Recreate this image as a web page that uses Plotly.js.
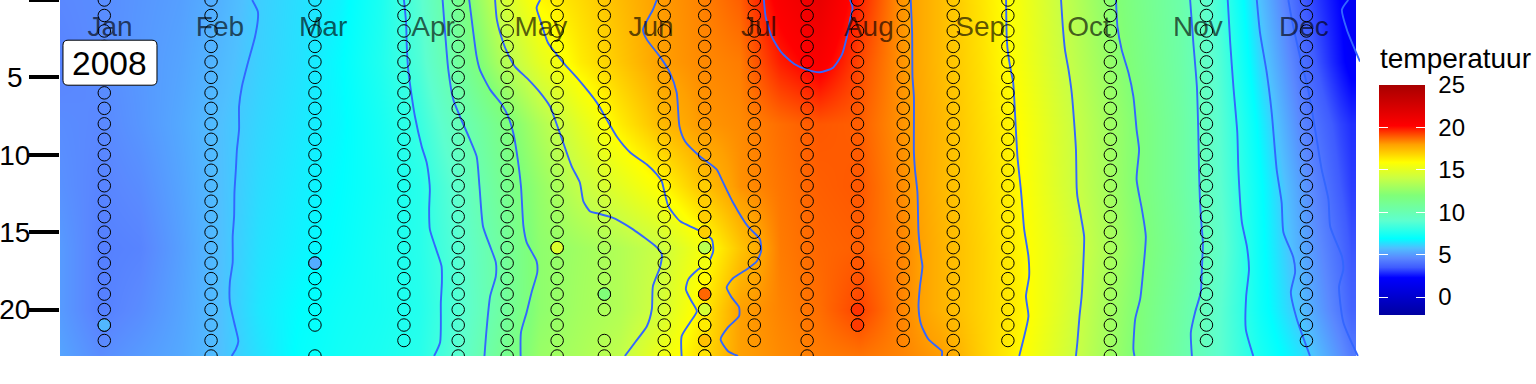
<!DOCTYPE html>
<html>
<head>
<meta charset="utf-8">
<script src="https://cdn.plot.ly/plotly-3.0.1.min.js"></script>
<style>html,body{margin:0;padding:0;background:#fff;overflow:hidden}#chart{width:1536px;height:384px}</style>
</head>
<body>
<div id="chart"></div>
<script>
const monthNames = ['Jan','Feb','Mar','Apr','May','Jun','Jul','Aug','Sep','Oct','Nov','Dec'];
const monthDays = [15.6,46.6,75.7,106.7,137.1,168.2,198.6,229.6,261,291.7,322.4,352.3];
const yearLabel = '2008';
const depthTicks = [0,5,10,15,20];
const depthTickText = ['0\u00A0','5\u00A0','10','15','20'];

const gridDays = [1.5,12.8,24.1,35.3,46.6,57.9,69.2,80.5,91.7,103,114.3,125.6,136.9,148.1,159.4,170.7,182,193.3,204.5,215.8,227.1,238.4,249.7,260.9,272.2,283.5,294.8,306.1,317.4,328.6,339.9,351.2,362.5,365.5];
const gridDepths = [0,4,8,12,16,20,23];
const tempAt0  = [4.6,4.7,4.9,5.1,5.5,6.05,6.35,6.7,7.5,8.9,11.3,14.2,16.05,16.7,17.4,18.05,18.4,18.9,20.5,21.4,19.7,18.2,17.4,16.5,15.5,14,12.6,11.4,10.3,8.4,5.8,3.6,2.3,1.7];
const tempAt4  = [4.5,4.7,4.95,5.2,5.65,6.1,6.4,6.85,7.6,8.7,10.8,13.2,15,16.3,17.15,18,18.3,18.5,19.8,20.5,19.2,18.2,17.4,16.6,15.6,14.2,12.9,11.6,10.4,8.7,6.2,4.1,2.5,2.05];
const tempAt8  = [4.7,4.6,4.9,5.3,5.8,6.2,6.5,6.8,7.4,8.2,9.8,11.5,13.3,14.9,16.3,17.4,18.1,18.3,18.7,19,18.9,18.2,17.5,16.7,15.9,14.5,13.2,11.9,10.6,8.9,6.7,4.6,3.2,2.9];
const tempAt12 = [4.8,4.5,4.7,5.2,5.8,6.3,6.6,6.9,7.3,7.8,9.2,11,12.6,13.95,14.95,15.95,17.2,18.2,18.6,18.9,19,18.3,17.5,16.8,16,14.6,13.3,11.9,10.6,9,7,5.1,3.5,3.1];
const tempAt16 = [5,4.4,4.5,5.1,5.8,6.4,6.7,7,7.4,7.8,8.9,10.6,12.4,12.9,13.4,14.1,15.5,17.2,18.5,18.8,18.9,18.4,17.6,16.9,16.1,14.9,13.5,12.1,10.8,9.2,7.1,5.4,3.9,3.4];
const tempAt20 = [5,4.4,4.7,5.2,5.8,6.5,6.9,7.2,7.4,7.7,8.8,10.5,12.4,13,13.4,14.4,16.2,18,18.4,18.7,19.3,18.4,17.6,16.9,16.2,14.8,13.3,11.9,10.5,9,7.2,5.8,4.2,3.7];
const tempAt23 = [5.2,4.7,5,5.3,5.8,6.4,7,7.3,7.5,7.8,9,11,12.7,13.2,13.8,15.3,16.6,18,18.3,18.5,18.6,18.4,18.05,17,16,14.6,13.2,11.8,10.4,9,7.5,6.4,4.8,4.3];

const sampleDays = [14,44.1,73.4,98.5,113.8,127.6,141.7,155,171.9,183.3,197.3,212.2,226.4,239.3,253.4,268.8,297.7,324.8,353];
const sampleLastDepth = [22,23,23,22,23,23,23,23,23,23,22,23,21,22,23,22,23,22,22];
const sampleGapDay = [73.4,155];
const sampleGapDepth = [22,21];

const julyFilledDays = [183.3,183.3,183.3,183.3,183.3,183.3,183.3,183.3,183.3,183.3,183.3,183.3];
const julyFilledDepths = [12,13,14,15,16,17,18,19,20,21,22,23];
const julyFilledTemps = [17,17,17,17,13.6,15.5,16,18.8,14.5,16.3,17.3,16.5];
const otherFilledDays = [14,73.4,141.7,155,226.4,226.4,226.4];
const otherFilledDepths = [21,17,16,19,17,20,21];
const otherFilledTemps = [5.6,5.4,14.7,12,19,19.5,19.4];

const contour06Days = [55.7,57.3,57.3,56.5,54.5,52.8,52,52,51.4,51.1,50.7,50.6,50.2,50.2,49.4,49.4,50.6,51.8,51.1,49.9];
const contour06Depths = [0,.75,1.27,2.37,4.05,5.59,6.88,8.37,9.66,10.95,12.43,13.98,15.27,16.95,18.24,19.53,20.82,22.05,22.56,23];
const contour08Days = [98.5,99.1,99.3,99.7,100.7,101.6,103.5,104.9,105.6,105.8,105.6,105.8,107.3,109.1,109.2,108.9,108.7,107];
const contour08Depths = [0,1.46,3.01,4.5,6.24,7.53,9.46,10.5,11.59,12.24,13.53,14.82,15.92,17.2,18.24,19.53,22.11,23];
const contour10Days = [109.4,110.1,111,112.4,114.3,117.1,119,119.8,120.8,122.8,124.4,124.4,122.8,121.8,121.2];
const contour10Depths = [0,2.11,4.5,6.43,7.53,9.01,10.11,12.05,14.63,15.92,16.95,17.85,19.14,21.27,23];
const contour12Days = [116.9,117.6,119,119.9,122.8,126.1,127.9,129.3,130.3,131.5,132.2,133.1,135.9,136.1,134.5,133.1,131.5,131.4];
const contour12Depths = [0,1.27,3.66,4.5,5.79,6.75,7.53,8.56,9.85,12.05,14.63,15.66,16.88,17.59,18.88,20.17,21.47,23];
const contour14Days = [124.2,124.7,126.5,127.9,129.8,133.6,136.9,139.7,141.1,143.4,145.8,148.1,149.1,151,153.2,157.1,159.4,163.1,169.8,171.2,170.7,168.7,168.4,167,163.7,160.8];
const contour14Depths = [0,1.27,2.76,3.53,4.3,5.14,5.98,6.88,7.72,9.21,10.75,11.79,13.01,13.66,13.79,14.05,14.3,14.82,15.98,16.43,17.27,18.5,19.98,21.08,22.11,23];
const contour16Days = [136.9,135.9,136.9,139.1,141.6,143.9,147.2,152.9,155.2,158.5,162.3,167,169.8,171.2,171.8,173.1,176.4,181.1,185.3,185.7,184.3,181.5,178.7,178,179.6,181.1,179.2,176.8,176.8];
const contour16Depths = [0,.5,1.27,2.76,3.53,4.17,5,6.63,7.53,8.82,9.85,10.63,11.27,11.72,12.24,13.34,14.3,14.82,15.46,16.24,16.95,17.4,18.05,18.69,19.46,20.11,20.82,21.72,23];
const contour18RiseDays = [169.8,168.7,165.9,167,170.7,173.5,175.4,176.2,177.8,182,186.7,188.1,191.3,195.5,198.9,199.2,198,195.2,191.3,189.5,190.9,193,193,189.9,187.8,189.9,192.7];
const contour18RiseDepths = [0,.63,1.92,2.56,3.66,4.69,5.98,8.17,9.14,10.11,10.95,11.59,13.08,14.63,15.46,16.24,16.88,17.4,17.98,18.56,19.21,19.85,20.43,21.14,21.92,22.69,23];
const contour20Days = [200,200.5,202.2,205,208.8,212.1,215.8,219.5,222,223.4,224.3,225,224.3];
const contour20Depths = [0,1.08,2.37,3.4,4.17,4.5,4.67,4.37,3.53,2.37,1.27,.5,0];
const contour18FallDays = [241.4,241.8,241.9,242.3,242.3,242.6,243.3,243.6,244.3,244.7,244,243.6,244.3,246.4,250.2,250.2];
const contour18FallDepths = [0,2.11,4.95,6.24,9.85,10.95,12.43,15,16.56,17.21,18.5,19.79,20.95,21.92,22.69,23];
const contour16FallDays = [268.3,268.5,268.9,269.6,270.3,270.8,271.5,272.4,272.7,273.4,274.6,274.8,273.9,274.6,273.2,272];
const contour16FallDepths = [0,2.56,3.53,4.5,5.34,7.27,10.11,12.11,12.88,14.82,16.56,17.85,19.14,20.43,21.92,23];
const contour14FallDays = [283.8,284.3,284.9,285.9,286.8,287.5,288,288.2,288.4,289.4,290.3,290.1,289.6,289,288.4,288];
const contour14FallDepths = [0,1.72,3.21,4.5,5.98,7.92,9.66,12.11,12.69,13.98,15.27,16.95,19.14,20.43,22.11,23];
const contour12FallDays = [299.3,299.7,300.9,302.8,304.2,305.1,305.8,305.1,306.6,307.7,307,306.1,304.7,304.2,304.5];
const contour12FallDepths = [0,1.72,3.21,4.69,6.24,8.37,9.66,11.59,13.53,15.27,17.4,19.33,20.63,22.56,23];
const contour10FallDays = [320.2,321.1,322.1,322.5,322.7,323,323.5,323.8,323.5,323.2,321.6,320.4,320.7];
const contour10FallDepths = [0,2.76,5.59,8.56,10.95,13.08,14.82,15.66,17.4,18.88,20.17,21.47,23];
const contour08FallDays = [330.8,331.5,332.4,333.5,333.8,334.8,336.2,336.8,336,335.9,338];
const contour08FallDepths = [0,2.76,5.59,8.56,10.95,14.37,15.92,17.4,19.14,21.27,23];
const contour06FallDays = [339,339.9,341.8,343.2,344.6,346,346.5,349.3,349.8,348.6,350.3,354];
const contour06FallDepths = [0,2.11,4.69,7.27,10.95,13.08,15,16.63,17.59,18.88,20.63,23];
const contour04FallDays = [347.9,348.9,351.2,353.5,355.9,357.3,359.2,359.7,363,363.4,362.2,363.4,367.5];
const contour04FallDepths = [0,1.27,3.66,5.79,9.01,10.95,12.88,14.63,16.56,17.4,18.5,20.82,23];
const contour02FallDays = [364.8,363,364.4,368.1];
const contour02FallDepths = [0,.63,1.92,3.98];

const contourPairs = [
  [contour06Days,contour06Depths],[contour08Days,contour08Depths],[contour10Days,contour10Depths],
  [contour12Days,contour12Depths],[contour14Days,contour14Depths],[contour16Days,contour16Depths],
  [contour18RiseDays,contour18RiseDepths],[contour20Days,contour20Depths],[contour18FallDays,contour18FallDepths],
  [contour16FallDays,contour16FallDepths],[contour14FallDays,contour14FallDepths],[contour12FallDays,contour12FallDepths],
  [contour10FallDays,contour10FallDepths],[contour08FallDays,contour08FallDepths],[contour06FallDays,contour06FallDepths],
  [contour04FallDays,contour04FallDepths],[contour02FallDays,contour02FallDepths]
];

const tempMin = -2.1, tempMax = 25;
const colorStops = [
  [-2.1,'#0000a0'],[2.3,'#0000ff'],[3.5,'#3f5cff'],[4.6,'#5a88ff'],[5.8,'#4fc0ff'],[6.9,'#00ffff'],
  [9,'#5dffcf'],[12,'#80ff78'],[14,'#c8ff45'],[15.9,'#ffff00'],[18,'#ffa000'],[20.2,'#ff0000'],[25,'#a80000']
];
const scale = colorStops.map(s => [(s[0]-tempMin)/(tempMax-tempMin), s[1]]);
const legendTicks = [0,5,10,15,20,25];
const legendTitle = 'temperatuur';
const FONT = '"Liberation Sans", Arial, sans-serif';

const sampleX = [], sampleY = [];
sampleDays.forEach((d,i) => {
  for (let k = 0; k <= sampleLastDepth[i]; k++) {
    const gap = sampleGapDay.some((g,j) => g === d && sampleGapDepth[j] === k);
    if (!gap) { sampleX.push(d); sampleY.push(k); }
  }
});

// One wide bar carries the labels; two narrow bars over its edges carry the white ticks on both sides.
const tickBar = (x) => ({thickness:9, thicknessmode:'pixels', len:230, lenmode:'pixels', x:x, xanchor:'left', xpad:0,
  y:1-85/356.5, yanchor:'top', ypad:0, outlinewidth:0, borderwidth:0,
  ticks:'inside', tickcolor:'#fff', ticklen:9, tickwidth:1, tickvals:legendTicks, showticklabels:false});

const traces = [
  {type:'heatmap', x:gridDays, y:gridDepths,
   z:[tempAt0,tempAt4,tempAt8,tempAt12,tempAt16,tempAt20,tempAt23],
   zmin:tempMin, zmax:tempMax, colorscale:scale, zsmooth:'best', hoverinfo:'skip',
   colorbar:{thickness:46, thicknessmode:'pixels', len:230, lenmode:'pixels', x:1.0146, xanchor:'left', xpad:0,
     y:1-85/356.5, yanchor:'top', ypad:0, outlinewidth:0, borderwidth:0,
     ticks:'outside', tickcolor:'#fff', ticklen:9, tickwidth:1, tickvals:legendTicks,
     tickfont:{family:FONT,size:24,color:'#000'}}}
];
contourPairs.forEach(p => traces.push({type:'scatter', mode:'lines', x:p[0], y:p[1], hoverinfo:'skip',
  showlegend:false, line:{color:'#3366ff', width:1.9, shape:'spline', smoothing:0.6}}));
traces.push({type:'scatter', mode:'markers', x:sampleX, y:sampleY, showlegend:false,
  marker:{size:12.5, color:'rgba(0,0,0,0)', line:{color:'#000', width:1}}});
traces.push({type:'scatter', mode:'markers', x:julyFilledDays, y:julyFilledDepths, showlegend:false,
  marker:{size:12.5, color:julyFilledTemps, cmin:tempMin, cmax:tempMax, colorscale:scale, line:{color:'#000', width:1},
    showscale:true, colorbar:tickBar(1.0146)}});
traces.push({type:'scatter', mode:'markers', x:otherFilledDays, y:otherFilledDepths, showlegend:false,
  marker:{size:12.5, color:otherFilledTemps, cmin:tempMin, cmax:tempMax, colorscale:scale, line:{color:'#000', width:1},
    showscale:true, colorbar:tickBar(1.0431)}});
traces.push({type:'scatter', mode:'text', x:monthDays, y:monthNames.map(() => 1.85), text:monthNames,
  textposition:'middle center', showlegend:false, hoverinfo:'skip',
  textfont:{family:FONT,size:28,color:'rgba(0,0,0,0.65)'}});

const layout = {
  width:1536, height:384, paper_bgcolor:'#fff', plot_bgcolor:'#fff', showlegend:false,
  margin:{l:60, r:176, t:0, b:27.5, pad:0},
  xaxis:{range:[1.505,368.1], visible:false, fixedrange:true},
  yaxis:{range:[23,0], tickmode:'array', tickvals:depthTicks, ticktext:depthTickText, ticklabelstandoff:-7,
    ticks:'outside', ticklen:30, tickwidth:4, tickcolor:'#000',
    showgrid:false, zeroline:false, showline:false, tickfont:{family:FONT,size:28,color:'#000'}, fixedrange:true},
  shapes:[{type:'path', xref:'x', yref:'y', xsizemode:'pixel', ysizemode:'pixel', xanchor:15.6, yanchor:4.05,
    path:'M -42,-22.5 L 42,-22.5 Q 47,-22.5 47,-17.5 L 47,17.5 Q 47,22.5 42,22.5 L -42,22.5 Q -47,22.5 -47,17.5 L -47,-17.5 Q -47,-22.5 -42,-22.5 Z',
    fillcolor:'#fff', line:{color:'#000', width:1}, layer:'above'}],
  annotations:[
    {x:15.6, y:4.05, xref:'x', yref:'y', text:yearLabel, showarrow:false, xanchor:'center', yanchor:'middle',
     yshift:-1, font:{family:FONT,size:33.5,color:'#000'}},
    {x:1.0146, y:1-59/356.5, xref:'paper', yref:'paper', text:legendTitle, showarrow:false, xanchor:'left', yanchor:'middle',
     xshift:-1, font:{family:FONT,size:28,color:'#000'}}
  ]
};
Plotly.newPlot('chart', traces, layout, {displayModeBar:false, staticPlot:true});
</script>
</body>
</html>
